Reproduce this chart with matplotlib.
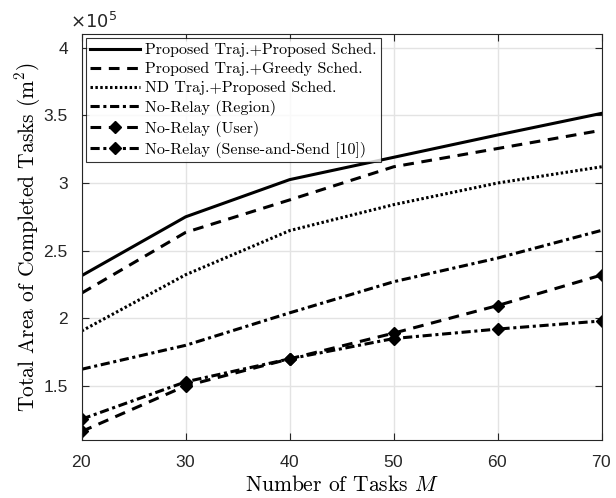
import matplotlib
matplotlib.use("Agg")
import matplotlib.pyplot as plt
from matplotlib.ticker import FuncFormatter

plt.rcParams["mathtext.fontset"] = "cm"
plt.rcParams["axes.formatter.use_mathtext"] = True

tasks = [20, 30, 40, 50, 60, 70]

prop_prop = [2.315e5, 2.75e5, 3.025e5, 3.19e5, 3.355e5, 3.515e5]
prop_greedy = [2.186e5, 2.635e5, 2.875e5, 3.12e5, 3.255e5, 3.39e5]
nd_prop = [1.906e5, 2.322e5, 2.648e5, 2.84e5, 3.0e5, 3.12e5]
relay_region = [1.623e5, 1.80e5, 2.04e5, 2.27e5, 2.445e5, 2.65e5]
relay_user = [1.163e5, 1.50e5, 1.70e5, 1.89e5, 2.094e5, 2.32e5]
relay_sas = [1.254e5, 1.53e5, 1.70e5, 1.85e5, 1.92e5, 1.98e5]

labels = [
    "Proposed Traj.+Proposed Sched.",
    "Proposed Traj.+Greedy Sched.",
    "ND Traj.+Proposed Sched.",
    "No-Relay (Region)",
    "No-Relay (User)",
    "No-Relay (Sense-and-Send [10])",
]

serif = "cmr10"
sans = "Liberation Sans"

fig = plt.figure(figsize=(6.16, 4.98), dpi=100)
ax = fig.add_axes([0.1326, 0.1165, 0.8442, 0.8148])

lw = 2.2
ax.plot(tasks, prop_prop, color="black", lw=lw, ls="-", label=labels[0])
ax.plot(tasks, prop_greedy, color="black", lw=lw, ls=(0, (3.5, 2.5)), label=labels[1])
ax.plot(tasks, nd_prop, color="black", lw=lw, ls=(0, (0.8, 0.8)), label=labels[2])
ax.plot(tasks, relay_region, color="black", lw=lw, ls=(0, (3, 1.2, 1, 1.2)), label=labels[3])
ax.plot(tasks, relay_user, color="black", lw=lw, ls=(0, (3.5, 2.5)),
        marker="D", markersize=6, label=labels[4])
ax.plot(tasks, relay_sas, color="black", lw=lw, ls=(0, (3, 1.2, 1, 1.2)),
        marker="D", markersize=6, label=labels[5])

ax.set_xlim(20, 70)
ax.set_ylim(1.1e5, 4.1e5)
ax.set_xticks(tasks)
ax.set_yticks([1.5e5, 2e5, 2.5e5, 3e5, 3.5e5, 4e5])
ax.yaxis.set_major_formatter(FuncFormatter(lambda v, p: f"{v / 1e5:g}"))

ax.grid(True, color="#e3e3e3", lw=1)
ax.set_axisbelow(True)
ax.tick_params(direction="in", top=True, right=True, length=5, width=0.8,
               labelsize=12.5, colors="#262626", pad=10)
for lab in ax.get_xticklabels() + ax.get_yticklabels():
    lab.set_fontfamily(sans)
for s in ax.spines.values():
    s.set_color("#262626")
    s.set_linewidth(0.8)

ax.text(-0.022, 1.005, r"$\times10^{5}$", transform=ax.transAxes, fontsize=13,
        family=sans, math_fontfamily="dejavusans", color="#262626",
        ha="left", va="bottom")

ax.set_xlabel("Number of Tasks $M$", fontsize=15.5, family=serif, labelpad=4)
ax.set_ylabel("Total Area of Completed Tasks (m$^2$)", fontsize=15.5,
              family=serif, labelpad=0)

leg = ax.legend(loc="upper left", prop={"family": serif, "size": 11.5},
                frameon=True, fancybox=False, edgecolor="black",
                borderaxespad=0.25, handlelength=3.1, handletextpad=0.3,
                labelspacing=0.3, borderpad=0.3)
leg.get_frame().set_linewidth(0.8)

fig.savefig("out.png", dpi=100)
